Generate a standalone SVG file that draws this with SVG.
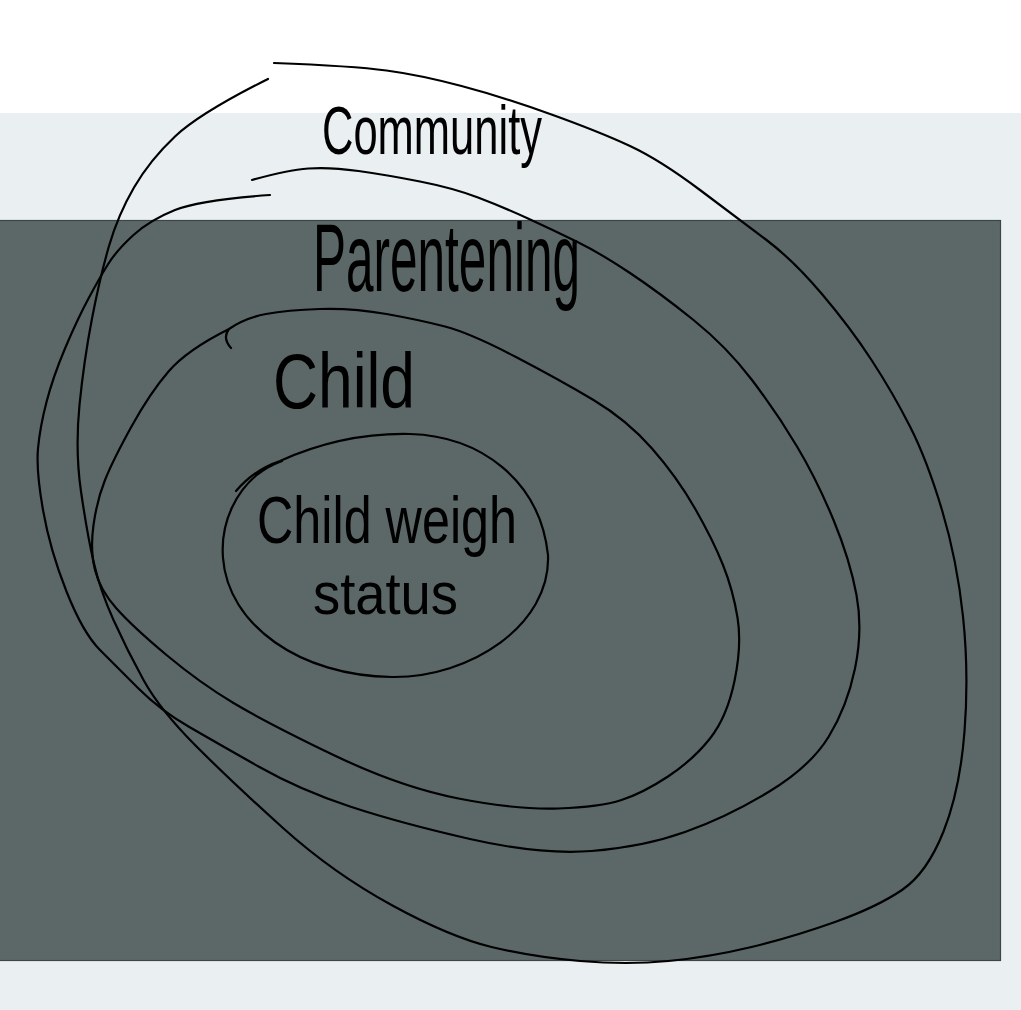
<svg xmlns="http://www.w3.org/2000/svg" width="1021" height="1010" viewBox="0 0 1021 1010">
<style>
.ring{fill:none;stroke:#000;stroke-width:2.2;stroke-linecap:round;stroke-linejoin:round}
.lbl{font-family:"Liberation Sans","DejaVu Sans",sans-serif;fill:#000}
</style>
<rect x="0" y="0" width="1021" height="1010" fill="#ffffff"/>
<rect x="0" y="113" width="1021" height="897" fill="#eaeff1"/>
<rect x="-1" y="220.5" width="1001.5" height="740" fill="#5c6868" stroke="#3d4646" stroke-width="1.2"/>
<g id="connectors"></g>
<g id="community">
<path class="ring" d="M268,79 Q200,113 175,136.5 Q150,160 134,187.5 Q118,215 109,246 Q100,277 92,318.5 Q84,360 79.5,405 Q75,450 81,491.5 Q87,533 93.5,561.5 Q100,590 113.5,620 Q127,650 143.5,680 Q160,710 196.5,746.5 Q233,783 283,828 Q333,873 391.5,905 Q450,937 491.5,947 Q533,957 580,961 Q627,965 668.5,961 Q710,957 751.5,947 Q793,937 835,922 Q877,907 902,890 Q927,873 943.5,831.5 Q960,790 964.5,731.5 Q969,673 963,616.5 Q957,560 942,510 Q927,460 910,426.5 Q893,393 871.5,360 Q850,327 821.5,293.5 Q793,260 766.5,240 Q740,220 700,190 Q660,160 630,146 Q600,132 551.5,114.5 Q503,97 461.5,86 Q420,75 386.5,70.5 Q353,66 274,63"/>
<text class="lbl" x="322" y="154" font-size="68" textLength="220" lengthAdjust="spacingAndGlyphs">Community</text>
</g>
<g id="parentening">
<path class="ring" d="M270,195 Q200,200 175,210 Q150,220 133.5,235 Q117,250 108.5,263.5 Q100,277 88.5,298.5 Q77,320 65,348.5 Q53,377 46.5,402 Q40,427 38,448.5 Q36,470 43,510 Q50,550 66.5,591.5 Q83,633 100,650 Q117,667 138.5,688.5 Q160,710 188.5,726.5 Q217,743 258.5,766.5 Q300,790 350,806.5 Q400,823 470,839 Q540,855 591.5,851 Q643,847 685,832 Q727,817 768.5,792 Q810,767 828.5,737 Q847,707 855,668.5 Q863,630 856.5,595 Q850,560 833.5,520 Q817,480 797,446.5 Q777,413 752,380 Q727,347 693.5,320 Q660,293 630,273 Q600,253 576.5,241.5 Q553,230 528,218.5 Q503,207 478,197.5 Q453,188 420,181.5 Q387,175 358.5,171 Q330,167 308.5,168.5 Q287,170 252,180"/>
<text class="lbl" x="313" y="291" font-size="96" textLength="267" lengthAdjust="spacingAndGlyphs">Parentening</text>
</g>
<g id="child">
<path class="ring" d="M229,329 Q187,350 168.5,371.5 Q150,393 131.5,426.5 Q113,460 105,480 Q97,500 93.5,525 Q90,550 95,570 Q100,590 116.5,608.5 Q133,627 166.5,655 Q200,683 233.5,703 Q267,723 333.5,755 Q400,787 458.5,798.5 Q517,810 558.5,808.5 Q600,807 621.5,800 Q643,793 668,776.5 Q693,760 710,738.5 Q727,717 734.5,681 Q742,645 737.5,617.5 Q733,590 723,565 Q713,540 695,508.5 Q677,477 652,448.5 Q627,420 593.5,400 Q560,380 515,356.5 Q470,333 445,326.5 Q420,320 386.5,314 Q353,308 320,309 Q287,310 266,314 Q245,318 229,329 Q222,338 231,348"/>
<text class="lbl" x="273" y="408" font-size="78" textLength="142" lengthAdjust="spacingAndGlyphs">Child</text>
</g>
<g id="child-weigh-status">
<path class="ring" d="M236,491 C248,477 262,467 280,461 C320,443 365,433 410,434 C480,436 540,480 548,555 C551,625 470,678 392,677 C300,676 228,625 223,558 C220,520 238,490 258,474 C266,468 274,464 282,461"/>
<text class="lbl" x="257" y="543" font-size="66" textLength="260" lengthAdjust="spacingAndGlyphs">Child weigh</text>
<text class="lbl" x="313" y="614" font-size="60" textLength="145" lengthAdjust="spacingAndGlyphs">status</text>
</g>
</svg>
